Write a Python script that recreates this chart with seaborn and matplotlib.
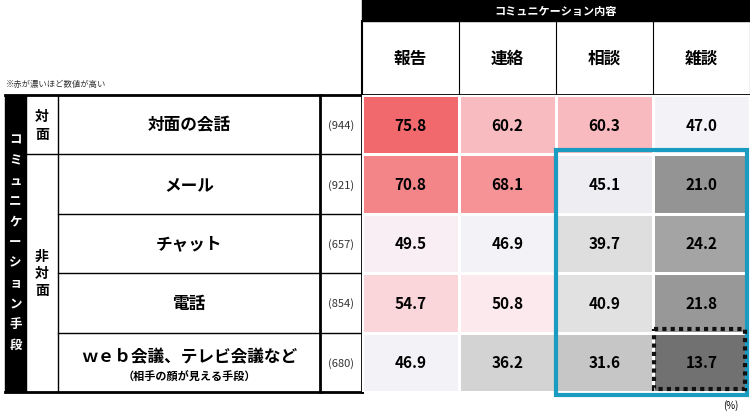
import numpy as np
import pandas as pd
import matplotlib
matplotlib.use("Agg")
import matplotlib.pyplot as plt
import seaborn as sns
from matplotlib.colors import LinearSegmentedColormap
from matplotlib.patches import Rectangle

plt.rcParams["font.family"] = "Noto Sans CJK JP"

# Data
contents = ["報告", "連絡", "相談", "雑談"]
methods = ["対面の会話", "メール", "チャット", "電話", "ｗｅｂ会議、テレビ会議など"]
sample_n = ["(944)", "(921)", "(657)", "(854)", "(680)"]
rep = [75.8, 70.8, 49.5, 54.7, 46.9]
contact = [60.2, 68.1, 46.9, 50.8, 36.2]
consult = [60.3, 45.1, 39.7, 40.9, 31.6]
chat = [47.0, 21.0, 24.2, 21.8, 13.7]

df = pd.DataFrame({"報告": rep, "連絡": contact, "相談": consult, "雑談": chat}, index=methods)

W, H = 750, 414
fig = plt.figure(figsize=(7.5, 4.14), dpi=100)
base = fig.add_axes([0, 0, 1, 1])
base.set_xlim(0, W)
base.set_ylim(H, 0)
base.axis("off")

# heatmap region in pixels
hx0, hx1, hy0, hy1 = 362, 750, 96, 393
hax = fig.add_axes([hx0 / W, 1 - hy1 / H, (hx1 - hx0) / W, (hy1 - hy0) / H])
cmap = LinearSegmentedColormap.from_list(
    "rg", [(0.0, "#6a6a6a"), (0.14, "#959595"), (0.3, "#c6c6c6"), (0.43, "#dedede"),
           (0.51, "#eeeef2"), (0.55, "#f6f5fa"), (0.6, "#fbe8ec"), (0.8, "#f7a8ad"),
           (1.0, "#f06468")])
sns.heatmap(df, ax=hax, cmap=cmap, vmin=12, vmax=77, annot=True, fmt=".1f", cbar=False,
            linewidths=1, linecolor="white",
            annot_kws={"fontsize": 11, "fontweight": "bold", "color": "black"})
hax.set_xticks([]); hax.set_yticks([])
hax.set_xlabel(""); hax.set_ylabel("")

# overlay for highlight boxes
top = fig.add_axes([0, 0, 1, 1])
top.set_xlim(0, W)
top.set_ylim(H, 0)
top.axis("off")
top.patch.set_alpha(0)

row_h = (hy1 - hy0) / len(methods)
col_w = (hx1 - hx0) / len(contents)

# top header
base.add_patch(Rectangle((hx0, 0), hx1 - hx0, 22, color="black"))
base.text((hx0 + hx1) / 2, 11, "コミュニケーション内容", color="white", ha="center", va="center",
          fontsize=8, fontweight="bold")
for i, c in enumerate(contents):
    base.text(hx0 + col_w * (i + 0.5), 59, c, ha="center", va="center", fontsize=12, fontweight="bold")
for i in range(len(contents) + 1):
    base.plot([hx0 + col_w * i] * 2, [22, hy0], color="black", lw=1.5 if i == 0 else 0.8)

base.text(6, 84, "※赤が濃いほど数値が高い", fontsize=6, va="center", color="#333333")

# left vertical black band
base.add_patch(Rectangle((5, hy0), 21, hy1 - hy0, color="black"))
label = "コミュニケーション手段"
for k, ch in enumerate(label):
    base.text(15.5, 140 + k * 20.5, ch, color="white", ha="center", va="center",
              fontsize=9, fontweight="bold")
base.text(42, 126, "対\n面", ha="center", va="center", fontsize=10, fontweight="bold", linespacing=1.3)
base.text(42, 274, "非\n対\n面", ha="center", va="center", fontsize=10, fontweight="bold", linespacing=1.3)

# table lines
base.plot([5, hx1], [hy0, hy0], color="black", lw=2)
base.plot([5, hx0], [hy1, hy1], color="black", lw=2)
base.plot([26, hx0], [hy0 + row_h] * 2, color="black", lw=1)
for r in range(2, 5):
    base.plot([58, hx0], [hy0 + row_h * r] * 2, color="black", lw=1)
for x, lw in [(58, 1), (320, 2), (hx0, 2)]:
    base.plot([x, x], [hy0, hy1], color="black", lw=lw)

for r, (m, n) in enumerate(zip(methods, sample_n)):
    cy = hy0 + row_h * (r + 0.5)
    if r == 4:
        base.text(189, cy - 6, m, ha="center", va="center", fontsize=12, fontweight="bold")
        base.text(189, cy + 14, "（相手の顔が見える手段）", ha="center", va="center", fontsize=8, fontweight="bold")
    else:
        base.text(189, cy, m, ha="center", va="center", fontsize=12, fontweight="bold")
    base.text(341, cy, n, ha="center", va="center", fontsize=8, color="#333333")

# highlight boxes
top.add_patch(Rectangle((556, 151), 191, 245, fill=False, edgecolor="#1a9bc2", lw=3))
top.add_patch(Rectangle((hx0 + col_w * 3 + 1, hy0 + row_h * 4 - 4), col_w - 6, row_h + 1,
                        fill=False, edgecolor="#111111", lw=3, linestyle=(0, (1, 1))))

base.text(738, 406, "(%)", ha="right", va="center", fontsize=7)

fig.savefig("out.png", dpi=100)
